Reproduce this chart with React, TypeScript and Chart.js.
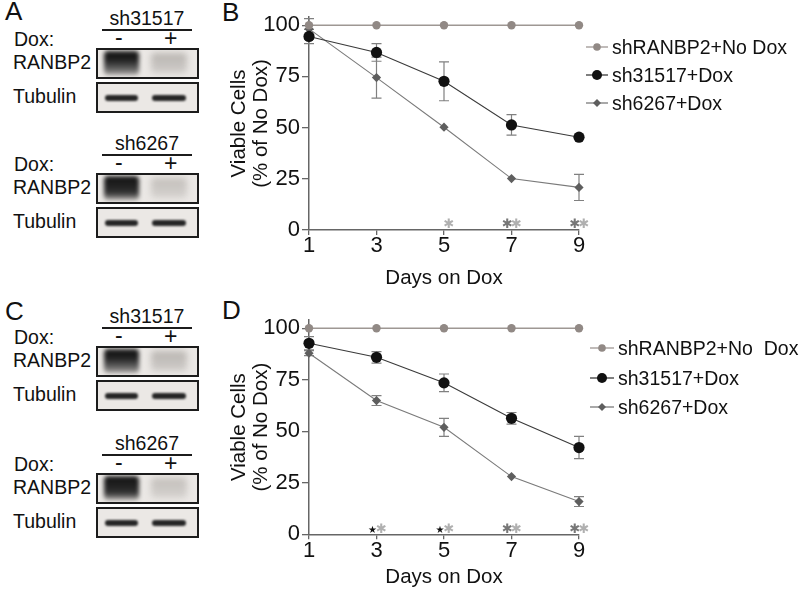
import React, { useEffect, useRef } from "react";
import { Chart, registerables } from "chart.js";
Chart.register(...registerables);

const FONT = "'Liberation Sans', Arial, sans-serif";

// ---------- data ----------
const days = [1, 3, 5, 7, 9];
const xTicks = [1, 3, 5, 7, 9];
const yTicks = [0, 25, 50, 75, 100];
const seriesNamesB = ["shRANBP2+No Dox", "sh31517+Dox", "sh6267+Dox"];
const seriesNamesD = ["shRANBP2+No\u00a0\u00a0Dox", "sh31517+Dox", "sh6267+Dox"];

// Panel B
const bNoDox = [100, 100, 100, 100, 100];
const bNoDoxErr = [0, 0, 0, 0, 0];
const b31517 = [94.5, 86.7, 72.6, 51.3, 45.3];
const b31517Err = [3.5, 4.3, 9.5, 5, 0];
const b6267 = [98.2, 74.4, 50.2, 25.1, 20.8];
const b6267Err = [5, 10, 0, 0, 6.4];
const bSigDark = [7, 9];
const bSigLight = [5, 7, 9];
const bSigStar: number[] = [];

// Panel D
const dNoDox = [100, 100, 100, 100, 100];
const dNoDoxErr = [0, 0, 0, 0, 0];
const d31517 = [92.7, 85.9, 73.5, 56.3, 42.1];
const d31517Err = [3.2, 2.8, 4.3, 2.8, 5.4];
const d6267 = [87.9, 64.9, 51.9, 28.0, 15.9];
const d6267Err = [1.2, 2.4, 4.4, 0, 2.4];
const dSigDark = [7, 9];
const dSigLight = [3, 5, 7, 9];
const dSigStar = [3, 5];

// ---------- colours ----------
const C_NODOX = "#918985";
const C_NODOX_LINE = "#9e9793";
const C_31517 = "#111111";
const C_31517_LINE = "#3a3a3a";
const C_6267 = "#5e5e5e";
const C_6267_LINE = "#7a7a7a";

const errorBarPlugin = {
  id: "errorBars",
  beforeDatasetsDraw(chart: any) {
    const ctx = chart.ctx;
    const ys = chart.scales.y;
    chart.data.datasets.forEach((ds: any, i: number) => {
      if (!ds.errors) return;
      const meta = chart.getDatasetMeta(i);
      ctx.save();
      ctx.strokeStyle = "#808080";
      ctx.lineWidth = 1.2;
      meta.data.forEach((pt: any, j: number) => {
        const e = ds.errors[j];
        if (!e) return;
        const v = ds.data[j].y;
        const yt = ys.getPixelForValue(v + e);
        const yb = ys.getPixelForValue(v - e);
        const x = pt.x;
        ctx.beginPath();
        ctx.moveTo(x, yt);
        ctx.lineTo(x, yb);
        ctx.moveTo(x - 5, yt);
        ctx.lineTo(x + 5, yt);
        ctx.moveTo(x - 5, yb);
        ctx.lineTo(x + 5, yb);
        ctx.stroke();
      });
      ctx.restore();
    });
  },
};

const sigPlugin = {
  id: "sigMarks",
  afterDatasetsDraw(chart: any, _args: any, opts: any) {
    const ctx = chart.ctx;
    const xs = chart.scales.x;
    const ys = chart.scales.y;
    const y0 = ys.getPixelForValue(0) - 5;
    ctx.save();
    ctx.textAlign = "center";
    ctx.textBaseline = "middle";
    (opts.star || []).forEach((d: number) => {
      ctx.font = "10px 'DejaVu Sans'";
      ctx.fillStyle = "#111";
      ctx.fillText("\u2605", xs.getPixelForValue(d) - 4, y0 + 1);
    });
    (opts.dark || []).forEach((d: number) => {
      ctx.font = "bold 13px 'DejaVu Sans'";
      ctx.fillStyle = "#777777";
      ctx.fillText("\u2731", xs.getPixelForValue(d) - 4, y0);
    });
    (opts.light || []).forEach((d: number) => {
      ctx.font = "bold 13px 'DejaVu Sans'";
      ctx.fillStyle = "#b0b0b0";
      ctx.fillText("\u2731", xs.getPixelForValue(d) + 5, y0);
    });
    ctx.restore();
  },
};

type ChartProps = {
  top: number;
  height: number;
  padTop: number;
  xAxisH: number;
  xTitlePad: number;
  noDox: number[];
  noDoxErr: number[];
  s1: number[];
  s1Err: number[];
  s2: number[];
  s2Err: number[];
  names: string[];
  sigDark: number[];
  sigLight: number[];
  sigStar: number[];
};

function LineChart(p: ChartProps) {
  const ref = useRef<HTMLCanvasElement | null>(null);
  useEffect(() => {
    if (!ref.current) return;
    const pts = (vals: number[]) => days.map((d, i) => ({ x: d, y: vals[i] }));
    const chart = new Chart(ref.current, {
      type: "line",
      data: {
        datasets: [
          {
            label: p.names[0],
            data: pts(p.noDox),
            errors: p.noDoxErr,
            borderColor: C_NODOX_LINE,
            backgroundColor: C_NODOX,
            borderWidth: 1.6,
            pointStyle: "circle",
            pointRadius: 4.2,
            pointBorderWidth: 0,
            clip: false,
          } as any,
          {
            label: p.names[1],
            data: pts(p.s1),
            errors: p.s1Err,
            borderColor: C_31517_LINE,
            backgroundColor: C_31517,
            borderWidth: 1.1,
            pointStyle: "circle",
            pointRadius: 5.6,
            pointBorderWidth: 0,
            clip: false,
          } as any,
          {
            label: p.names[2],
            data: pts(p.s2),
            errors: p.s2Err,
            borderColor: C_6267_LINE,
            backgroundColor: C_6267,
            borderWidth: 1.1,
            pointStyle: "rectRot",
            pointRadius: 4.6,
            pointBorderWidth: 0,
            clip: false,
          } as any,
        ],
      },
      options: {
        responsive: false,
        animation: false,
        layout: { padding: { top: p.padTop, right: 221, left: 0, bottom: 0 } },
        plugins: {
          legend: { display: false },
          tooltip: { enabled: false },
          sigMarks: { dark: p.sigDark, light: p.sigLight, star: p.sigStar },
        } as any,
        scales: {
          x: {
            type: "linear",
            min: 1,
            max: 9,
            afterBuildTicks: (ax: any) => {
              ax.ticks = xTicks.map((v) => ({ value: v }));
            },
            afterFit: (s: any) => {
              s.height = p.xAxisH;
            },
            grid: {
              display: true,
              drawOnChartArea: false,
              drawTicks: true,
              tickLength: 5,
              color: "#666",
              lineWidth: 1.3,
            },
            border: { display: true, color: "#666", width: 1.5 },
            ticks: {
              color: "#111",
              font: { family: FONT, size: 22 },
              padding: -2,
              maxRotation: 0,
              autoSkip: false,
            },
            title: {
              display: true,
              text: "Days on Dox",
              color: "#111",
              font: { family: FONT, size: 20.5, lineHeight: 1.2 },
              padding: { top: 0, bottom: p.xTitlePad },
            },
          },
          y: {
            min: 0,
            max: 104,
            afterBuildTicks: (ax: any) => {
              ax.ticks = yTicks.map((v) => ({ value: v }));
            },
            afterFit: (s: any) => {
              s.width = 89;
            },
            grid: {
              display: true,
              drawOnChartArea: false,
              drawTicks: true,
              tickLength: 7,
              color: "#666",
              lineWidth: 1.3,
            },
            border: { display: true, color: "#666", width: 1.5 },
            ticks: {
              color: "#111",
              font: { family: FONT, size: 22 },
              padding: 2,
              autoSkip: false,
            },
            title: {
              display: true,
              text: ["Viable Cells", "(% of No Dox)"],
              color: "#111",
              font: { family: FONT, size: 20.5, lineHeight: 1.08 },
              padding: { top: 8, bottom: 0 },
            },
          },
        },
      } as any,
      plugins: [errorBarPlugin, sigPlugin],
    });
    return () => chart.destroy();
  }, []);
  return (
    <canvas
      ref={ref}
      width={580}
      height={p.height}
      style={{ position: "absolute", left: 220, top: p.top, width: 580, height: p.height }}
    />
  );
}

function LegendItem({ x, textX, y, color, lineColor, shape, label }: any) {
  const w = textX - x;
  const cx = w / 2 - 2;
  return (
    <div
      style={{
        position: "absolute",
        left: x,
        top: y - 12,
        height: 24,
        display: "flex",
        alignItems: "center",
        whiteSpace: "pre",
        fontFamily: FONT,
        fontSize: 19.5,
        color: "#111",
      }}
    >
      <svg width={w} height={14} style={{ display: "block" }}>
        <line x1={0} y1={7} x2={w - 4} y2={7} stroke={lineColor} strokeWidth={1.3} />
        {shape === "circle" && <circle cx={cx} cy={7} r={color === C_31517 ? 5 : 3.8} fill={color} />}
        {shape === "diamond" && (
          <polygon points={`${cx},3 ${cx + 4},7 ${cx},11 ${cx - 4},7`} fill={color} />
        )}
      </svg>
      <span>{label}</span>
    </div>
  );
}

function Legend({ x, textX, ys, names }: any) {
  return (
    <>
      <LegendItem x={x} textX={textX} y={ys[0]} color={C_NODOX} lineColor={C_NODOX_LINE} shape="circle" label={names[0]} />
      <LegendItem x={x} textX={textX} y={ys[1]} color={C_31517} lineColor={C_31517_LINE} shape="circle" label={names[1]} />
      <LegendItem x={x} textX={textX} y={ys[2]} color={C_6267} lineColor={C_6267_LINE} shape="diamond" label={names[2]} />
    </>
  );
}

const txt = (s: string, left: number, cy: number, size = 19.5, extra: any = {}) => (
  <div
    style={{
      position: "absolute",
      left,
      top: cy - size * 0.6,
      fontFamily: FONT,
      fontSize: size,
      lineHeight: `${size * 1.2}px`,
      color: "#111",
      whiteSpace: "pre",
      ...extra,
    }}
  >
    {s}
  </div>
);

function Band({ l, t, w, h, bg, blur, r = 4 }: any) {
  return (
    <div
      style={{
        position: "absolute",
        left: l,
        top: t,
        width: w,
        height: h,
        background: bg,
        filter: `blur(${blur}px)`,
        borderRadius: r,
      }}
    />
  );
}

function Box({ top, h, children }: any) {
  return (
    <div
      style={{
        position: "absolute",
        left: 96,
        top,
        width: 103,
        height: h,
        boxSizing: "border-box",
        border: "2px solid #1c1c1c",
        background: "#ebe8e5",
        overflow: "hidden",
      }}
    >
      {children}
    </div>
  );
}

function Blot({ name, y0, strength }: any) {
  return (
    <>
      <div style={{ position: "absolute", left: 103, top: y0 - 16, width: 88, textAlign: "center", fontFamily: FONT, fontSize: 19.5, lineHeight: "22px", color: "#111" }}>
        {name}
      </div>
      <div style={{ position: "absolute", left: 102, top: y0 + 5.5, width: 90, height: 0, borderTop: "2px solid #1c1c1c" }} />
      {txt("Dox:", 14, y0 + 17)}
      {txt("-", 115, y0 + 15, 23)}
      {txt("+", 164, y0 + 16, 23)}
      {txt("RANBP2", 13, y0 + 40)}
      {txt("Tubulin", 13, y0 + 74)}
      <Box top={y0 + 25} h={31}>
        <Band l={6} t={1} w={35} h={24} bg={`linear-gradient(to bottom, #151515 0%, #1e1e1e 35%, ${strength > 1 ? "#333" : "#5a5a5a"} 70%, #a9a6a3 100%)`} blur={2} />
        <Band l={53} t={3} w={36} h={20} bg={strength > 1 ? "linear-gradient(#c3bfbb,#d5d2cf)" : "linear-gradient(#b9b5b1,#cfccc9)"} blur={3} />
      </Box>
      <Box top={y0 + 59} h={31}>
        <Band l={7} t={11} w={33} h={6} bg="#262626" blur={1} r={3} />
        <Band l={54} t={11} w={34} h={6} bg="#262626" blur={1} r={3} />
      </Box>
    </>
  );
}

export default function App() {
  return (
    <div
      style={{
        position: "fixed",
        left: 0,
        top: 0,
        width: 800,
        height: 591,
        background: "#fff",
        overflow: "hidden",
      }}
    >
      {txt("A", 5, 12, 26)}
      {txt("B", 222, 13, 26)}
      {txt("C", 5, 312, 26)}
      {txt("D", 222, 311, 26)}

      <Blot name="sh31517" y0={23} strength={1} />
      <Blot name="sh6267" y0={148} strength={2} />
      <Blot name="sh31517" y0={321} strength={1} />
      <Blot name="sh6267" y0={448} strength={2} />

      <LineChart
        top={0}
        height={300}
        padTop={17}
        xAxisH={70}
        xTitlePad={9}
        noDox={bNoDox}
        noDoxErr={bNoDoxErr}
        s1={b31517}
        s1Err={b31517Err}
        s2={b6267}
        s2Err={b6267Err}
        names={seriesNamesB}
        sigDark={bSigDark}
        sigLight={bSigLight}
        sigStar={bSigStar}
      />
      <LineChart
        top={300}
        height={291}
        padTop={20}
        xAxisH={56.7}
        xTitlePad={1}
        noDox={dNoDox}
        noDoxErr={dNoDoxErr}
        s1={d31517}
        s1Err={d31517Err}
        s2={d6267}
        s2Err={d6267Err}
        names={seriesNamesD}
        sigDark={dSigDark}
        sigLight={dSigLight}
        sigStar={dSigStar}
      />
      <Legend x={586} textX={612} ys={[47, 75, 103]} names={seriesNamesB} />
      <Legend x={590} textX={618} ys={[348, 378, 407]} names={seriesNamesD} />
    </div>
  );
}
